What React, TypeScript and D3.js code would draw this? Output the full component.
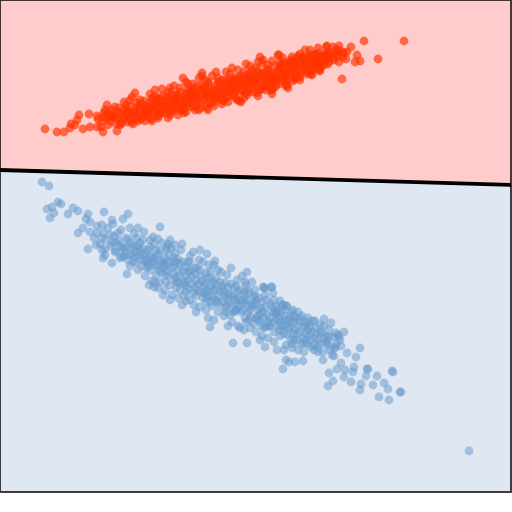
import React from "react";
import * as d3 from "d3";

// Plot extent (data units)
const X_DOMAIN: [number, number] = [0, 511];
const Y_DOMAIN: [number, number] = [0, 492];

// Decision boundary endpoints
const boundaryX = [0, 511];
const boundaryY = [170, 185];

// Class A (red) points: [x, y]
const redPoints: [number, number][] = [
  [45,129],[57,132],[64,132],[70,128],[71,124],[75,125],[77,120],[79,115],[83,129],[89,114],
  [90,127],[97,127],[97,116],[101,127],[103,132],[103,117],[107,105],[108,113],[112,117],[117,131],
  [115,107],[121,123],[124,102],[128,122],[135,93],[132,97],[152,121],[183,78],[202,73],[208,110],
  [241,102],[240,101],[272,90],[287,85],[260,57],[278,55],[263,60],
  [404,41],[364,41],[378,59],[342,79],[327,46],[351,47],[333,47],[339,46],[357,55],[360,61],
  [355,62],[347,52],[343,57],[339,62],[333,58],[286,86],[295,79],[305,50],[320,68],[323,63],
  [312,75],[315,55],[271,90],[311,74],[319,70],[279,55],[328,54],[338,53],[344,53],[346,59],
  [98,119],[102,122],[106,118],[110,121],[113,116],[117,119],[120,114],[122,123],[125,117],[127,110],
  [130,120],[131,113],[134,116],[136,108],[138,121],[140,112],[142,105],[143,117],[146,110],[148,114],
  [150,102],[151,119],[153,107],[155,112],[157,99],[158,116],[160,104],[162,110],[163,96],[165,113],
  [166,101],[168,118],[170,107],[171,94],[173,111],[175,99],[176,104],[178,115],[180,92],[181,101],
  [183,108],[185,96],[186,112],[188,89],[189,103],[191,98],[193,107],[194,93],[196,101],[198,86],
  [199,110],[201,95],[203,100],[204,89],[206,105],[208,93],[209,84],[211,98],[213,103],[214,90],
  [216,95],[218,82],[219,99],[221,87],[223,93],[224,101],[226,80],[228,91],[229,96],[231,85],
  [233,89],[234,78],[236,98],[238,84],[240,91],[241,76],[243,87],[245,94],[246,81],[248,89],
  [250,74],[251,84],[253,92],[255,79],[256,86],[258,71],[260,82],[262,89],[263,76],[265,84],
  [267,69],[268,79],[270,87],[272,73],[273,81],[275,66],[277,77],[279,84],[280,70],[282,75],
  [284,63],[285,80],[287,68],[289,73],[290,61],[292,78],[294,66],[296,71],[297,59],[299,75],
  [301,64],[303,69],[304,57],[306,72],[308,61],[310,66],[311,55],[313,70],[315,59],[317,63],
  [319,53],[321,67],[323,57],[325,61],[328,52],[330,58],[333,55],[336,50],
  [104,113],[108,125],[112,110],[116,124],[119,108],[123,119],[126,105],[129,115],[132,122],[135,111],
  [137,103],[139,116],[141,119],[144,101],[145,113],[147,107],[149,117],[152,98],[154,110],[156,116],
  [159,101],[161,113],[164,106],[167,97],[169,112],[172,103],[174,109],[177,95],[179,107],[182,98],
  [184,113],[187,93],[190,106],[192,89],[195,110],[197,96],[200,103],[202,86],[205,98],[207,108],
  [210,88],[212,95],[215,100],[217,85],[220,93],[222,104],[225,86],[227,97],[230,79],[232,93],
  [235,86],[237,100],[239,80],[242,90],[244,84],[247,95],[249,78],[252,88],[254,82],[257,93],
  [259,75],[261,86],[264,80],[266,90],[269,72],[271,83],[274,78],[276,86],[278,70],[281,80],
  [283,73],[286,84],[288,64],[291,71],[293,81],[295,62],[298,69],[300,77],[302,60],[305,67],
  [307,74],[309,57],[312,64],[314,68],[316,54],[318,61],[320,71],[322,56],[324,65],[327,59],
  [329,62],[331,53],[334,60],[338,56],[342,52],
  [115,117],[128,112],[140,109],[152,104],[163,102],[174,100],[185,100],[195,95],[205,93],[215,90],
  [225,89],[235,91],[245,85],[255,83],[265,78],[275,75],[285,72],[295,68],[305,64],[315,62],
  [257,77],[247,75],[237,82],[227,83],[217,92],[207,96],[197,92],[187,98],[177,103],[167,106],
  [157,108],[147,112],[137,118],[270,76],[280,66],[290,65],[300,62],[310,61],[320,59],[262,73],
  [252,70],[242,79],[232,82],[222,96],[212,92],[202,90],[192,95],[182,104],[172,108],[162,111],
  [226,72],[238,70],[250,66],[262,63],[272,61],[283,58],[292,57],[300,54],[310,50],[318,48],
  [326,47],[212,76],[199,78],[186,82],[174,86],[162,89],[150,94],
  [105,110],[118,112],[130,106],[140,100],[155,96],[168,92],[180,88],[193,84],[205,80],[218,78],
  [230,74],[244,72],[256,68],[268,65],[280,62],[292,60],[304,58],[316,56],[120,125],[133,124],
  [145,121],[158,118],[170,115],[184,110],[196,106],[210,103],[222,100],[234,96],[248,92],[260,90],
  [274,88],[284,78],[296,74],[306,70],[318,66],[328,64],[110,117],[125,114],[145,106],[160,98],
  [175,95],[190,92],[205,88],[220,84],[235,80],[250,77],[265,73],[280,68],[295,64],[310,58],
  [325,54],[338,50],
  [112,114],[124,110],[134,113],[146,115],[156,104],[166,108],[176,98],[186,104],[196,98],[206,92],
  [216,97],[226,92],[236,88],[246,86],[256,80],[266,86],[276,80],[286,76],[296,78],[306,62],
  [316,66],[326,56],[180,110],[194,88],[208,82],[222,80],[238,78],[252,74],[268,70],[282,64],
  [298,56],[150,110],[170,100],[190,100],[210,96],[230,86],[250,82],[270,80],[290,70],[310,68],
  [160,114],[200,108],[214,106],[228,102],[244,98],[258,96],[272,94],[288,88],[300,80],[140,104],
  [130,100],[155,90],[170,88],[188,84],[202,76],[216,72],[232,68],[246,64],[258,62],
];

// Class B (blue) points: [x, y]
const bluePoints: [number, number][] = [
  [42,182],[49,186],[47,209],[52,207],[50,218],[54,213],[58,202],[61,204],[68,214],[73,208],
  [78,211],[88,214],[104,212],[86,219],[90,222],[83,228],[78,233],[88,249],[112,220],[128,214],
  [123,219],[160,227],[138,228],[97,233],[102,238],[105,255],[103,258],[112,263],[127,274],[115,252],
  [149,285],[154,287],[163,295],[210,327],[233,343],[247,343],[247,272],[207,254],[215,261],[175,245],
  [245,282],[265,288],[272,287],[167,247],
  [469,451],[400,392],[389,400],[379,397],[392,371],[384,383],[388,389],[377,376],[373,385],[361,384],
  [360,390],[368,369],[366,376],[360,348],[328,386],[333,381],[329,373],[344,377],[351,382],[354,367],
  [353,372],[337,369],[345,370],[341,363],[356,357],[344,332],[336,333],[339,337],[347,353],[335,347],
  [334,356],[341,346],[283,369],[286,360],[295,362],[303,361],[324,319],[331,323],[315,321],[271,287],
  [264,288],[292,312],[286,306],[282,305],[265,347],[277,350],[289,362],[323,360],[321,333],[329,337],
  [326,343],[318,352],[311,347],[393,372],[401,392],[367,369],
  [90,232],[94,238],[97,226],[100,244],[103,233],[106,240],[108,228],[111,246],[114,236],[116,251],
  [119,241],[121,230],[124,248],[126,238],[129,255],[131,243],[134,234],[136,252],[138,246],[141,259],
  [143,240],[146,253],[148,262],[150,247],[153,237],[155,258],[157,266],[160,251],[162,243],[164,263],
  [167,270],[169,255],[171,248],[174,266],[176,277],[178,259],[181,250],[183,271],[185,282],[188,262],
  [190,256],[192,276],[195,288],[197,268],[199,260],[202,281],[204,293],[206,273],[209,265],[211,286],
  [213,298],[216,278],[218,270],[220,291],[223,302],[225,283],[227,275],[230,295],[232,307],[234,288],
  [237,280],[239,300],[241,312],[244,292],[246,285],[248,305],[251,317],[253,297],[255,290],[258,310],
  [260,321],[262,302],[265,295],[267,315],[269,326],[272,307],[274,300],[276,320],[279,330],[281,312],
  [283,305],[286,325],[288,335],[290,317],[293,310],[295,330],[297,340],[300,322],[302,316],[305,334],
  [307,344],[310,327],[313,321],[315,338],[318,347],[321,332],[324,326],[327,342],[330,350],[333,337],
  [336,344],[340,340],
  [96,245],[102,225],[105,249],[110,235],[113,224],[118,233],[122,257],[127,247],[130,228],[133,262],
  [137,238],[140,250],[144,232],[147,268],[151,256],[154,244],[158,239],[161,272],[165,258],[168,244],
  [172,262],[175,253],[179,283],[182,244],[186,268],[189,289],[193,252],[196,281],[200,270],[203,262],
  [207,297],[210,278],[214,265],[217,302],[221,272],[224,294],[228,287],[231,268],[235,311],[238,292],
  [242,276],[245,303],[249,293],[252,282],[256,318],[259,298],[263,287],[266,327],[270,304],[273,293],
  [277,313],[280,301],[284,320],[287,306],[291,340],[294,322],[298,312],[301,344],[304,327],[308,318],
  [311,340],[314,350],[317,333],[320,325],[323,352],[326,336],[329,330],[332,355],[335,348],[338,335],
  [115,242],[125,252],[135,257],[145,262],[155,265],[165,275],[175,280],[185,276],[195,274],[205,284],
  [215,290],[225,297],[235,300],[245,296],[255,304],[265,308],[275,312],[285,316],[295,318],[305,322],
  [140,243],[150,270],[160,260],[170,285],[180,264],[190,270],[200,292],[210,296],[220,282],[230,303],
  [240,306],[250,310],[260,314],[270,318],[280,322],[290,328],[300,332],[310,335],[180,290],[190,300],
  [230,315],[245,318],[160,282],[170,240],[200,250],
  [120,258],[130,266],[138,270],[145,276],[152,281],[158,288],[165,290],[172,295],[178,298],[186,301],
  [194,305],[200,307],[206,310],[212,306],[218,312],[224,316],[232,322],[238,326],[244,330],[250,328],
  [256,332],[262,336],[268,338],[274,342],[280,336],[286,345],[292,348],[298,350],[304,352],[156,275],
  [166,282],[176,288],[186,292],[196,296],[206,302],[216,300],[226,306],[236,310],[246,322],[254,324],
  [264,328],[274,332],[284,334],[294,340],[304,343],[314,345],[142,266],[132,254],[122,248],[112,243],
  [102,250],[208,318],[228,326],[196,312],[182,305],
  [148,250],[158,254],[168,262],[178,270],[188,280],[198,284],[208,290],[218,296],[228,300],[238,305],
  [248,312],[258,316],[268,322],[278,326],[288,320],[298,326],[308,330],[318,340],[328,345],[143,255],
  [153,262],[163,268],[173,274],[183,284],[193,293],[203,298],[213,282],[223,290],[233,296],[243,300],
  [253,306],[263,312],[273,322],[283,330],[293,334],
  [120,245],[124,256],[128,260],[132,248],[136,262],[139,255],[142,248],[146,260],[149,266],[152,258],
  [156,250],[159,270],[162,262],[165,266],[168,276],[171,268],[174,258],[177,282],[180,276],[183,262],
  [186,286],[189,272],[192,284],[195,268],[198,290],[201,276],[204,286],[207,278],[210,302],[213,290],
  [216,284],[219,304],[222,286],[225,308],[228,294],[231,284],[234,312],[237,298],[240,290],[243,310],
  [246,300],[249,320],[252,304],[255,296],[258,320],[261,308],[264,318],[267,300],[270,326],[273,312],
  [276,306],[279,318],[282,326],[285,310],[288,328],[291,322],[294,316],[297,334],[300,318],[303,338],
  [306,326],[309,322],[312,332],[316,328],[320,344],[324,338],[128,240],[134,246],[150,240],[176,262],
  [184,296],[206,292],[226,312],[248,290],[262,326],[278,310],[292,344],[306,340],[170,300],[155,282],
  [214,320],[240,328],[260,340],[284,350],[166,250],[190,262],[210,272],[236,286],[256,300],[276,314],
];

const W = 512;
const H = 512;

export default function App() {
  const x = d3.scaleLinear().domain(X_DOMAIN).range([0, 511]);
  const y = d3.scaleLinear().domain(Y_DOMAIN).range([0, 492]);

  const [x0, x1] = X_DOMAIN;
  const [y0, y1] = Y_DOMAIN;

  const poly = d3.line<[number, number]>().x((d) => x(d[0])).y((d) => y(d[1]));

  const redRegion: [number, number][] = [
    [x0, y0], [x1, y0], [boundaryX[1], boundaryY[1]], [boundaryX[0], boundaryY[0]],
  ];
  const blueRegion: [number, number][] = [
    [boundaryX[0], boundaryY[0]], [boundaryX[1], boundaryY[1]], [x1, y1], [x0, y1],
  ];
  const boundary: [number, number][] = [
    [boundaryX[0], boundaryY[0]], [boundaryX[1], boundaryY[1]],
  ];

  return (
    <div style={{ position: "fixed", left: 0, top: 0, width: W, height: H, background: "#fff" }}>
      <svg width={W} height={H} style={{ display: "block" }}>
        <path d={poly(redRegion) + "Z"} fill="#ffcccc" />
        <path d={poly(blueRegion) + "Z"} fill="#dfe7f2" />
        <g>
          {bluePoints.map((p, i) => (
            <circle key={"b" + i} cx={x(p[0])} cy={y(p[1])} r={4.4} fill="#6699cc" fillOpacity={0.52} />
          ))}
        </g>
        <g>
          {redPoints.map((p, i) => (
            <circle key={"r" + i} cx={x(p[0])} cy={y(p[1])} r={4.4} fill="#ff3300" fillOpacity={0.66} />
          ))}
        </g>
        <path d={poly(boundary) ?? ""} stroke="#000" strokeWidth={3.8} fill="none" />
        <rect
          x={x(x0)}
          y={y(y0)}
          width={x(x1) - x(x0)}
          height={y(y1) - y(y0)}
          fill="none"
          stroke="#000"
          strokeOpacity={0.75}
          strokeWidth={2}
        />
      </svg>
    </div>
  );
}
